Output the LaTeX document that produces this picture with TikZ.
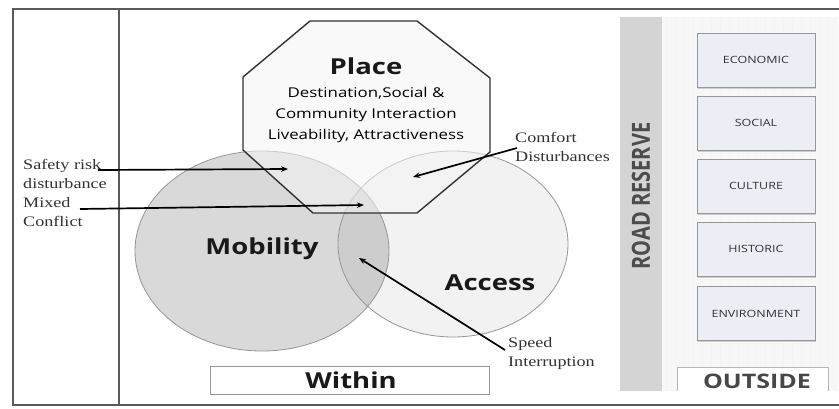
\documentclass[tikz,border=0pt]{standalone}
\usepackage{fontspec}
\usetikzlibrary{arrows.meta,shadows}
\newfontfamily\osans[FakeStretch=1.25]{Open Sans}
\newfontfamily\lblfont[FakeStretch=1.25]{Liberation Serif}
\newfontfamily\osplain{Open Sans}
\definecolor{framec}{RGB}{90,90,90}
\definecolor{accc}{RGB}{242,242,242}
\definecolor{circline}{RGB}{150,150,150}
\definecolor{octline}{RGB}{50,50,50}
\definecolor{bandc}{RGB}{212,212,212}
\definecolor{panelc}{RGB}{247,247,247}
\definecolor{boxc}{RGB}{236,238,246}
\definecolor{boxline}{RGB}{150,150,155}
\definecolor{lbltext}{RGB}{50,50,50}
\tikzset{
  frameline/.style={draw=framec, line width=2.2pt},
  sidelabel/.style={font=\lblfont\fontsize{14.5}{19}\selectfont, text=lbltext, align=left, inner sep=0pt, anchor=west},
  bigword/.style={font=\osans\bfseries\fontsize{22}{26}\selectfont, text=black!90, inner sep=0pt},
  placeline/.style={font=\osans\fontsize{13.5}{16}\selectfont, text=black, inner sep=0pt},
  factorbox/.style={draw=boxline, fill=boxc, line width=0.7pt, minimum width=118pt, minimum height=54pt, inner sep=0pt,
     font=\osans\fontsize{10}{12}\selectfont, text=black!80,
     drop shadow={opacity=0.35, shadow xshift=1pt, shadow yshift=-1.5pt}},
  pointer/.style={draw=black, line width=1.7pt, -{Stealth[length=7pt,width=5.5pt]}},
}
\begin{document}
\begin{tikzpicture}[x=1pt,y=-1pt]
\useasboundingbox (0,0) rectangle (839,408);
\fill[white] (0,0) rectangle (839,408);
% frame
\draw[frameline] (839,9) -- (13,9) -- (13,405) -- (839,405);
\draw[frameline] (119,9) -- (119,405);
% right panel
\fill[panelc] (662,17) rectangle (837,391);
\draw[gray!9, line width=0.3pt, step=9] (662,17) grid (837,391);
\fill[bandc] (620,17) rectangle (662,391);
\node[rotate=90, font=\osplain\bfseries\fontsize{20}{24}\selectfont, text=black!70, inner sep=0pt] (road) at (641,196) {\scalebox{1}[1.25]{ROAD RESERVE}};
\node[factorbox] (eco) at (756,60) {ECONOMIC};
\node[factorbox] (soc) at (756,123) {SOCIAL};
\node[factorbox] (cul) at (756,186) {CULTURE};
\node[factorbox] (his) at (756,249) {HISTORIC};
\node[factorbox] (env) at (756,313.5) {ENVIRONMENT};
\fill[white] (677,367) rectangle (828,391);
\draw[boxline!70, line width=0.7pt] (677,391) -- (677,367) -- (828,367) -- (828,391);
\node[font=\osans\bfseries\fontsize{20}{24}\selectfont, text=black!72, inner sep=0pt] (outside) at (757,381) {OUTSIDE};
% circles
\fill[accc] (453,244) ellipse [x radius=115, y radius=93];
\fill[black, fill opacity=0.15] (262,251) ellipse [x radius=127, y radius=100];
\draw[circline, line width=0.8pt] (262,251) ellipse [x radius=127, y radius=100];
\draw[circline, line width=0.8pt] (453,244) ellipse [x radius=115, y radius=93];
% octagon
\filldraw[fill=gray!8, fill opacity=0.55, draw=octline, line width=1.4pt]
  (310,21) -- (417,21) -- (490,78) -- (490,152) -- (417,213) -- (313,213) -- (243,150) -- (243,77) -- cycle;
\node[bigword] (place) at (366,66) {Place};
\node[placeline] (pl1) at (366,93) {Destination,Social \&};
\node[placeline] (pl2) at (366,115) {Community Interaction};
\node[placeline] (pl3) at (366,136) {Liveability, Attractiveness};
% circle labels
\node[bigword] (mob) at (262,249) {Mobility};
\node[bigword] (acc) at (490,283) {Access};
% within
\node[draw=boxline, fill=white, line width=0.8pt, minimum width=279pt, minimum height=28pt, inner sep=0pt] (withinbox) at (349.5,380) {};
\node[bigword] (within) at (351,380) {Within};
% side labels
\node[sidelabel] (safety) at (23,173.5) {Safety risk\\disturbance};
\node[sidelabel] (mixed) at (23,212) {Mixed\\Conflict};
\node[sidelabel] (comfort) at (515,147) {Comfort\\Disturbances};
\node[sidelabel] (speed) at (508,353.5) {Speed\\Interruption};
% arrow ends
\coordinate (safetyS) at (98,170);
\coordinate (safetyT) at (288,169);
\coordinate (mixedS) at (80,209);
\coordinate (mixedT) at (364,205);
\coordinate (comfortS) at (517,148);
\coordinate (comfortT) at (413,177);
\coordinate (speedS) at (505,350);
\coordinate (speedT) at (359,258);
\draw[pointer] (safetyS) -- (safetyT);
\draw[pointer] (mixedS) -- (mixedT);
\draw[pointer] (comfortS) -- (comfortT);
\draw[pointer] (speedS) -- (speedT);
\end{tikzpicture}
\end{document}
